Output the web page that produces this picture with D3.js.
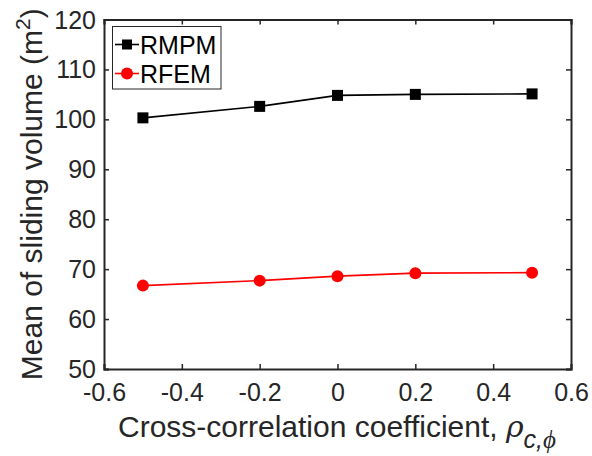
<!DOCTYPE html>
<html>
<head>
<meta charset="utf-8">
<script src="https://cdn.jsdelivr.net/npm/d3@7"></script>
<style>
  html, body { margin: 0; padding: 0; background: #fff; }
  svg { display: block; font-family: "Liberation Sans", Arial, Helvetica, sans-serif; }
</style>
</head>
<body>
<svg id="chart" width="592" height="456"></svg>
<script>
const xValues = [-0.5, -0.2, 0, 0.2, 0.5];
const rmpm = [100.3, 102.6, 104.8, 105.0, 105.1];
const rfem = [66.7, 67.7, 68.6, 69.2, 69.3];
const seriesNames = ["RMPM", "RFEM"];
const xTicks = [-0.6, -0.4, -0.2, 0, 0.2, 0.4, 0.6];
const yTicks = [50, 60, 70, 80, 90, 100, 110, 120];

const W = 592, H = 456;
const m = { left: 104, right: 21, top: 19.5, bottom: 87 };
const svg = d3.select("#chart");
const axisColor = "#262626";

const x = d3.scaleLinear().domain([-0.6, 0.6]).range([m.left, W - m.right]);
const y = d3.scaleLinear().domain([50, 120]).range([H - m.bottom, m.top]);

const tickLen = 5;
const fmtX = d => d === 0 ? "0" : d3.format(".1f")(d).replace("−", "-");

const gx = svg.append("g").attr("transform", `translate(0,${y.range()[0]})`)
  .call(d3.axisBottom(x).tickValues(xTicks).tickSize(-tickLen).tickPadding(14).tickFormat(fmtX));
const gxt = svg.append("g").attr("transform", `translate(0,${y.range()[1]})`)
  .call(d3.axisTop(x).tickValues(xTicks).tickSize(-tickLen).tickFormat(""));
const gy = svg.append("g").attr("transform", `translate(${x.range()[0]},0)`)
  .call(d3.axisLeft(y).tickValues(yTicks).tickSize(-tickLen).tickPadding(8));
const gyr = svg.append("g").attr("transform", `translate(${x.range()[1]},0)`)
  .call(d3.axisRight(y).tickValues(yTicks).tickSize(-tickLen).tickFormat(""));

[gx, gxt, gy, gyr].forEach(g => {
  g.selectAll(".domain").attr("stroke", axisColor).attr("stroke-width", 2);
  g.selectAll(".tick line").attr("stroke", axisColor).attr("stroke-width", 1.5);
  g.selectAll(".tick text").attr("fill", axisColor).attr("font-size", 25)
    .attr("font-family", '"Liberation Sans", Arial, sans-serif');
});
gy.selectAll(".tick text").attr("dy", "0.34em");
gx.selectAll(".tick text").attr("dy", "0.71em");

const line = d3.line().x((d, i) => x(xValues[i])).y(d => y(d));

svg.append("path").datum(rmpm).attr("d", line)
  .attr("fill", "none").attr("stroke", "#000").attr("stroke-width", 1.6);
svg.append("path").datum(rfem).attr("d", line)
  .attr("fill", "none").attr("stroke", "#ff0000").attr("stroke-width", 1.6);

const sq = 11;
svg.append("g").selectAll("rect").data(rmpm).join("rect")
  .attr("x", (d, i) => x(xValues[i]) - sq / 2)
  .attr("y", d => y(d) - sq / 2)
  .attr("width", sq).attr("height", sq).attr("fill", "#000");
svg.append("g").selectAll("circle").data(rfem).join("circle")
  .attr("cx", (d, i) => x(xValues[i]))
  .attr("cy", d => y(d))
  .attr("r", 6).attr("fill", "#ff0000");

// Legend
const lg = svg.append("g");
lg.append("rect").attr("x", 112.5).attr("y", 26.5).attr("width", 108.5).attr("height", 62.5)
  .attr("fill", "#fff").attr("stroke", axisColor).attr("stroke-width", 1);
const legendItems = [
  { name: seriesNames[0], color: "#000", shape: "square", cy: 44.5 },
  { name: seriesNames[1], color: "#ff0000", shape: "circle", cy: 73.5 }
];
legendItems.forEach(it => {
  lg.append("line").attr("x1", 115).attr("x2", 139).attr("y1", it.cy).attr("y2", it.cy)
    .attr("stroke", it.color).attr("stroke-width", 1.6);
  if (it.shape === "square") {
    lg.append("rect").attr("x", 127 - 5).attr("y", it.cy - 5).attr("width", 10).attr("height", 10).attr("fill", it.color);
  } else {
    lg.append("circle").attr("cx", 127).attr("cy", it.cy).attr("r", 6).attr("fill", it.color);
  }
  lg.append("text").attr("x", 140).attr("y", it.cy).attr("dy", "0.36em")
    .attr("font-size", 25).attr("fill", "#000").text(it.name);
});

// Axis titles
const yt = svg.append("text")
  .attr("transform", `translate(42,${(y.range()[0] + y.range()[1]) / 2}) rotate(-90)`)
  .attr("text-anchor", "middle").attr("font-size", 30).attr("fill", axisColor);
yt.append("tspan").text("Mean of sliding volume (m");
yt.append("tspan").attr("font-size", 21).attr("dy", -12).text("2");
yt.append("tspan").attr("dy", 12).text(")");

const xt = svg.append("text")
  .attr("x", 118).attr("y", 437)
  .attr("text-anchor", "start").attr("font-size", 30).attr("fill", axisColor);
xt.append("tspan").text("Cross-correlation coefficient, ");
xt.append("tspan").attr("font-family", '"DejaVu Serif", "Liberation Serif", serif')
  .attr("font-style", "italic").attr("font-size", 30).text("ρ");
xt.append("tspan").attr("dy", 11).attr("font-size", 25).attr("font-style", "italic").text("c,");
xt.append("tspan").attr("font-size", 25).attr("font-style", "italic")
  .attr("font-family", '"Liberation Serif", serif').text("ϕ");
</script>
</body>
</html>
